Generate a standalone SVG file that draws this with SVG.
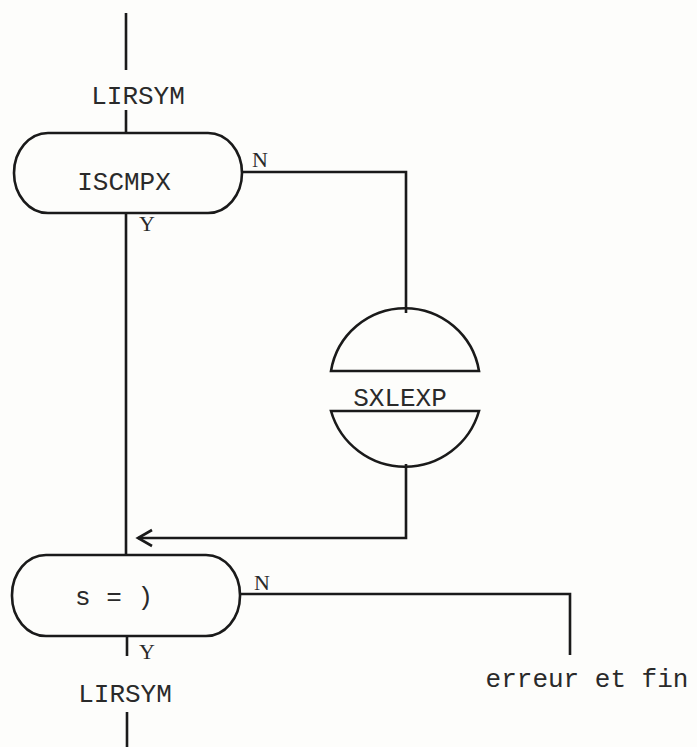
<svg xmlns="http://www.w3.org/2000/svg" width="697" height="747" viewBox="0 0 697 747">
<style>
.s{fill:none;stroke:#1a1a1a;stroke-width:2.6}
.t{font-family:"Liberation Mono","DejaVu Sans Mono",monospace;font-size:26px;fill:#2a2a2a}
.l{font-family:"Liberation Serif","Times New Roman",serif;font-size:22px;fill:#2a2a2a}
</style>
<rect width="697" height="747" fill="#fdfdfb"/>
<g id="connectors" class="s">
<path d="M126 13V70"/>
<path d="M126 110V133"/>
<path d="M242 172H406V313"/>
<path d="M126 213V555"/>
<path d="M406 464V538H138"/>
<path d="M152 530L138 538L152 546"/>
<path d="M240 594H570V655"/>
<path d="M127 636V656"/>
<path d="M127 712V747"/>
</g>
<g id="lirsym1"><text class="t" x="138" y="104" text-anchor="middle">LIRSYM</text></g>
<g id="iscmpx">
<rect class="s" x="14" y="133" width="228" height="80" rx="34" ry="40"/>
<text class="t" x="124" y="190" text-anchor="middle">ISCMPX</text>
<text class="l" x="252" y="167">N</text>
<text class="l" x="139" y="231">Y</text>
</g>
<g id="sxlexp">
<path class="s" d="M331 371A75 75 0 0 1 479 371Z"/>
<path class="s" d="M331 411H479A77 77 0 0 1 331 411Z"/>
<text class="t" x="400" y="406" text-anchor="middle">SXLEXP</text>
</g>
<g id="test">
<rect class="s" x="12" y="555" width="228" height="81" rx="34" ry="40"/>
<text class="t" x="114" y="605" text-anchor="middle">s = )</text>
<text class="l" x="254" y="590">N</text>
<text class="l" x="139" y="659">Y</text>
</g>
<g id="lirsym2"><text class="t" x="125" y="702" text-anchor="middle">LIRSYM</text></g>
<g id="erreur"><text class="t" x="587" y="687" text-anchor="middle">erreur et fin</text></g>
</svg>
